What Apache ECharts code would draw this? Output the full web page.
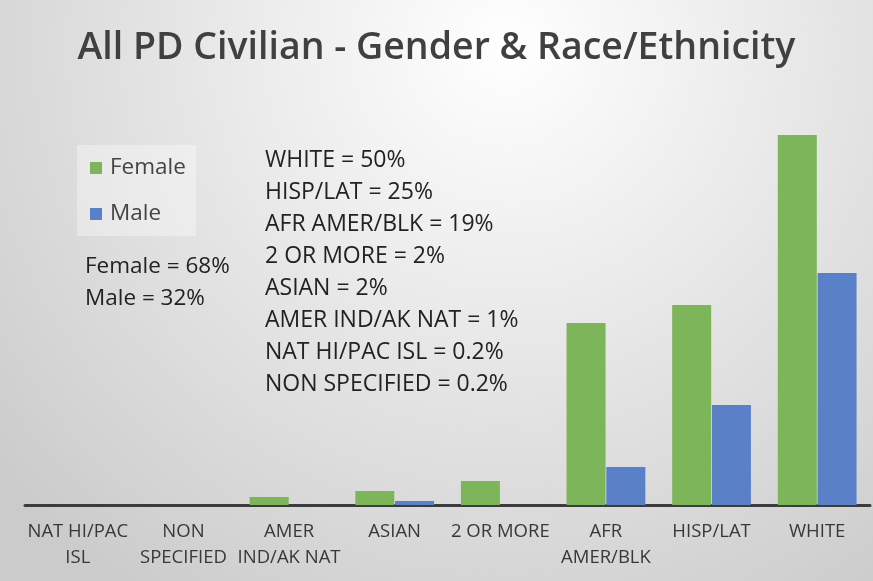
<!DOCTYPE html>
<html>
<head>
<meta charset="utf-8">
<title>All PD Civilian - Gender & Race/Ethnicity</title>
<script src="https://cdn.jsdelivr.net/npm/echarts@6/dist/echarts.min.js"></script>
<style>
    html, body { margin: 0; padding: 0; }
    #chart { width: 873px; height: 581px; }
</style>
</head>
<body>
<div id="chart"></div>
<script>
// categories along the x axis (line breaks as in the original labels)
const categories = [
    'NAT HI/PAC\nISL',
    'NON\nSPECIFIED',
    'AMER\nIND/AK NAT',
    'ASIAN',
    '2 OR MORE',
    'AFR\nAMER/BLK',
    'HISP/LAT',
    'WHITE'
];

// head counts
const female = [0, 0, 4, 7, 12, 91, 100, 185];
const male = [0, 0, 0, 2, 0, 19, 50, 116];

// the text notes drawn on the chart
const genderNotes = ['Female = 68%', 'Male = 32%'];
const raceNotes = [
    'WHITE = 50%',
    'HISP/LAT = 25%',
    'AFR AMER/BLK = 19%',
    '2 OR MORE = 2%',
    'ASIAN = 2%',
    'AMER IND/AK NAT = 1%',
    'NAT HI/PAC ISL = 0.2%',
    'NON SPECIFIED = 0.2%'
];

const FONT = '"Open Sans", "Noto Sans", sans-serif';
const textColor = '#404040';

const chart = echarts.init(document.getElementById('chart'));

const option = {
    backgroundColor: new echarts.graphic.RadialGradient(0.58, 0.08, 1.15, [
        { offset: 0, color: '#ffffff' },
        { offset: 1, color: '#cbcbcb' }
    ]),
    animation: false,
    title: {
        text: 'All PD Civilian - Gender & Race/Ethnicity',
        left: 'center',
        top: 28,
        padding: 0,
        textStyle: {
            fontFamily: FONT,
            fontSize: 37.5,
            fontWeight: 600,
            color: textColor,
            lineHeight: 40
        }
    },
    legend: {
        data: ['Female', 'Male'],
        orient: 'vertical',
        left: 77,
        top: 145,
        padding: [11, 10, 10, 13],
        itemGap: 22,
        itemWidth: 12,
        itemHeight: 12,
        icon: 'rect',
        backgroundColor: 'rgba(255,255,255,0.35)',
        textStyle: {
            fontFamily: FONT,
            fontSize: 22.5,
            lineHeight: 24,
            color: '#444',
            padding: [0, 0, 0, 3]
        }
    },
    grid: {
        left: 25,
        right: 3,
        top: 105,
        bottom: 76
    },
    xAxis: {
        type: 'category',
        data: categories,
        axisLine: {
            show: true,
            lineStyle: { color: '#3c3c3c', width: 3 }
        },
        axisTick: { show: false },
        axisLabel: {
            interval: 0,
            margin: 14,
            fontFamily: FONT,
            fontSize: 18.5,
            lineHeight: 26,
            color: '#383838'
        }
    },
    yAxis: {
        type: 'value',
        min: 0,
        max: 200,
        show: false
    },
    graphic: [
        {
            type: 'text',
            left: 85,
            top: 251,
            style: {
                text: genderNotes.join('\n'),
                font: '22.5px ' + FONT,
                lineHeight: 32,
                fill: '#222'
            }
        },
        {
            type: 'text',
            left: 265,
            top: 144,
            style: {
                text: raceNotes.join('\n'),
                font: '23px ' + FONT,
                lineHeight: 32,
                fill: '#222'
            }
        }
    ],
    series: [
        {
            name: 'Female',
            type: 'bar',
            data: female,
            barWidth: 39,
            barGap: '2%',
            itemStyle: { color: '#7db55a' }
        },
        {
            name: 'Male',
            type: 'bar',
            data: male,
            barWidth: 39,
            itemStyle: { color: '#5a81c8' }
        }
    ]
};

chart.setOption(option);
</script>
</body>
</html>
